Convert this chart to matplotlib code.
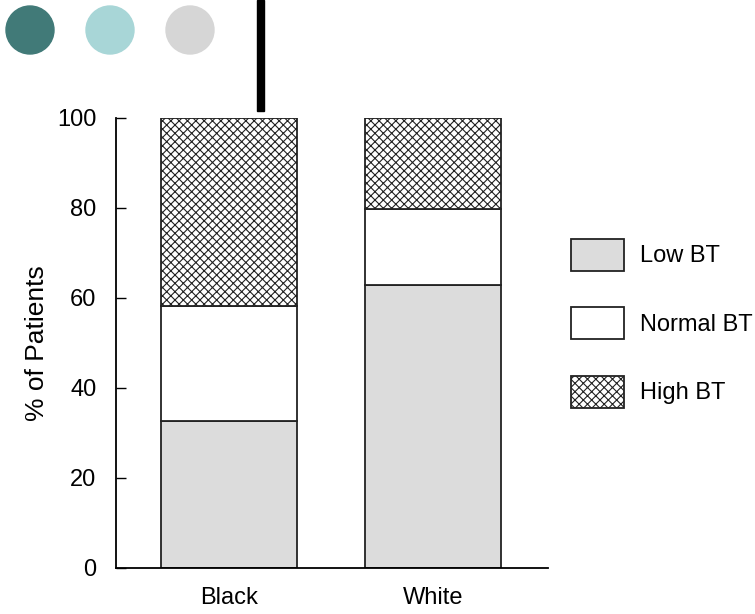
import matplotlib.pyplot as plt
from matplotlib.patches import Circle, Rectangle

plt.rcParams['font.family'] = ['Liberation Sans', 'DejaVu Sans']
plt.rcParams['hatch.linewidth'] = 0.8

groups = ['Black', 'White']
low_bt = [32.7, 62.8]
normal_bt = [25.6, 16.9]
high_bt = [41.7, 20.3]
y_ticks = [0, 20, 40, 60, 80, 100]

fig = plt.figure(figsize=(7.55, 6.14), dpi=100)

# decoration layer in pixel coords
deco = fig.add_axes([0, 0, 1, 1], zorder=0)
deco.set_xlim(0, 755)
deco.set_ylim(614, 0)
deco.axis('off')
for cx, col in zip([30, 110, 190], ['#417A78', '#A8D6D7', '#D6D6D6']):
    deco.add_patch(Circle((cx, 30), 24, color=col))
deco.add_patch(Rectangle((257, 0), 7, 111, color='black'))

ax = fig.add_axes([116 / 755, 46 / 614, 432 / 755, 450 / 614], zorder=1)
ax.patch.set_alpha(0)

x = range(len(groups))
bottom2 = [a + b for a, b in zip(low_bt, normal_bt)]
b1 = ax.bar(x, low_bt, width=0.667, color='#DCDCDC', edgecolor='#222222', linewidth=1.3, label='Low BT')
b2 = ax.bar(x, normal_bt, width=0.667, bottom=low_bt, color='white', edgecolor='#222222', linewidth=1.3, label='Normal BT')
b3 = ax.bar(x, high_bt, width=0.667, bottom=bottom2, color='white', edgecolor='#222222', linewidth=1.3,
            hatch='xxxx', label='High BT')

ax.set_xlim(-0.554, 1.564)
ax.set_ylim(0, 100)
ax.set_yticks(y_ticks)
ax.set_xticks(list(x))
ax.set_xticklabels(groups)
ax.tick_params(axis='y', direction='in', length=7, width=1, labelsize=17, pad=14)
ax.tick_params(axis='x', length=0, labelsize=17, pad=14)
ax.spines['top'].set_visible(False)
ax.spines['right'].set_visible(False)
ax.spines['left'].set_linewidth(1.3)
ax.spines['bottom'].set_linewidth(1.3)
ax.set_ylabel('% of Patients', fontsize=19, labelpad=6)

fig.legend(handles=[b1, b2, b3], loc='upper left', bbox_to_anchor=(566 / 755, 1 - 234 / 614),
           frameon=False, fontsize=17, handlelength=2.25, handleheight=1.7,
           handletextpad=0.68, labelspacing=1.55, borderaxespad=0, borderpad=0.2)

fig.savefig('out.png', dpi=100)
